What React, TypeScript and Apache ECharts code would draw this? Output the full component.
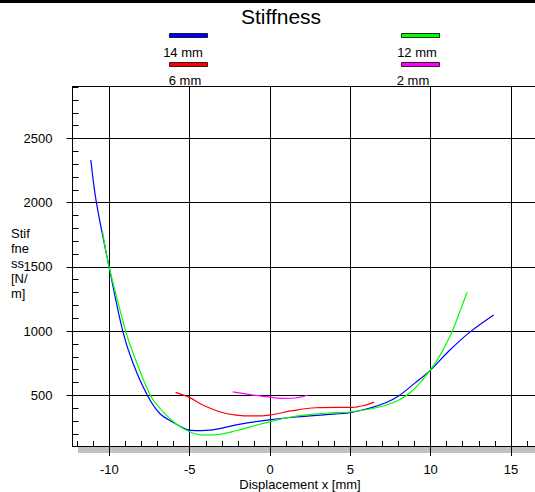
import React, { useEffect, useRef } from "react";
import * as echarts from "echarts";

const FONT = "'Liberation Sans', Arial, sans-serif";

const seriesNames = ["14 mm", "12 mm", "6 mm", "2 mm"];
const seriesColors = ["#0000ff", "#00ff00", "#ff0000", "#ff00ff"];

const x14 = [-11.16, -10.81, -10.02, -9.17, -8.53, -7.64, -6.88, -5.94, -5.22, -4.6, -3.57, -2.11, -0.3, 1.4, 3.48, 4.97, 6.17, 7.2, 8.03, 9.0, 9.96, 11.14, 12.48, 13.93];
const v14 = [2334, 2000, 1500, 1000, 749, 500, 360, 282, 235, 224, 230, 269, 305, 329, 349, 364, 399, 442, 497, 593, 692, 845, 996, 1126];

const x12 = [-10.43, -10.02, -8.99, -8.6, -7.45, -6.67, -5.84, -5.01, -4.19, -3.35, -2.11, -0.3, 1.4, 3.48, 4.97, 6.17, 7.2, 8.03, 8.8, 9.48, 10.2, 10.72, 11.34, 11.86, 12.27];
const v12 = [1775, 1500, 1000, 853, 500, 372, 276, 216, 190, 193, 224, 285, 333, 360, 370, 391, 422, 463, 527, 619, 735, 840, 996, 1165, 1303];

const x6 = [-5.88, -5.03, -4.19, -3.15, -2.11, -1.08, -0.04, 1.4, 2.86, 4.1, 5.13, 5.96, 6.48];
const v6 = [523, 484, 424, 372, 346, 339, 346, 380, 403, 406, 406, 424, 447];

const x2 = [-2.32, -1.08, -0.04, 0.7, 1.4, 2.34];
const v2 = [526, 502, 487, 476, 477, 500];

const xMajorTicks = [-10, -5, 0, 5, 10, 15];
const xMinorTicks = [-12, -11, -9, -8, -7, -6, -4, -3, -2, -1, 1, 2, 3, 4, 6, 7, 8, 9, 11, 12, 13, 14, 16];
const yMajorTicks = [500, 1000, 1500, 2000, 2500];
const yMinorTicks = [200, 300, 400, 600, 700, 800, 900, 1100, 1200, 1300, 1400, 1600, 1700, 1800, 1900, 2100, 2200, 2300, 2400, 2600, 2700, 2800, 2900];

const xs = [x14, x12, x6, x2];
const vs = [v14, v12, v6, v2];

export default function App() {
  const ref = useRef<HTMLDivElement>(null);
  useEffect(() => {
    if (!ref.current) return;
    const chart = echarts.init(ref.current, null, { renderer: "svg" });
    const grid = { left: 72.5, top: 86.5, right: -1.4, bottom: 46 };
    const yBase = { type: "value", min: 105, max: 2905, gridIndex: 0, position: "left" };
    const xBase = { type: "value", min: -12.3, max: 16.5, gridIndex: 0 };
    const series = seriesNames.map((name, i) => ({
      name,
      type: "line",
      xAxisIndex: 0,
      yAxisIndex: 0,
      data: xs[i].map((x, j) => [x, vs[i][j]]),
      smooth: 0.35,
      showSymbol: false,
      symbol: "none",
      z: 4,
      lineStyle: { color: seriesColors[i], width: 1.2 },
    }));
    const legendItems: any[] = [];
    const legendPos = [
      { rx: 169, ry: 33, tx: 183, ty: 52 },
      { rx: 401, ry: 33, tx: 417, ty: 52 },
      { rx: 169, ry: 62, tx: 185, ty: 80.5 },
      { rx: 401, ry: 62, tx: 413, ty: 80.5 },
    ];
    seriesNames.forEach((name, i) => {
      const p = legendPos[i];
      legendItems.push({
        type: "rect",
        shape: { x: p.rx + 0.5, y: p.ry + 0.5, width: 38, height: 4 },
        style: { fill: seriesColors[i], stroke: "#000", lineWidth: 0.8 },
        z: 10,
      });
      legendItems.push({
        type: "text",
        x: p.tx,
        y: p.ty,
        style: { text: name, font: `13px ${FONT}`, fill: "#000", align: "center", verticalAlign: "middle" },
        z: 10,
      });
    });
    const plain = (v: number) => String(v);
    chart.setOption({
      animation: false,
      backgroundColor: "#fff",
      grid,
      xAxis: [
        {
          ...xBase,
          position: "bottom",
          z: 3,
          axisLine: { show: true, onZero: false, lineStyle: { color: "#000", width: 1 } },
          axisTick: { show: true, inside: false, length: 10, customValues: xMajorTicks, lineStyle: { color: "#000" } },
          axisLabel: { show: true, customValues: xMajorTicks, formatter: plain, margin: 17, color: "#000", fontSize: 13, fontFamily: FONT },
          splitLine: { show: true, lineStyle: { color: "#000", width: 1 } },
        },
        {
          ...xBase,
          position: "bottom",
          z: 3,
          axisLine: { show: false, onZero: false },
          axisTick: { show: true, inside: true, length: 5, customValues: xMinorTicks, lineStyle: { color: "#000" } },
          axisLabel: { show: false },
          splitLine: { show: false },
        },
        {
          ...xBase,
          position: "top",
          z: 3,
          axisLine: { show: true, onZero: false, lineStyle: { color: "#000", width: 1 } },
          axisTick: { show: false },
          axisLabel: { show: false },
          splitLine: { show: false },
        },
      ],
      yAxis: [
        {
          ...yBase,
          z: 3,
          axisLine: { show: true, onZero: false, lineStyle: { color: "#000", width: 1 } },
          axisTick: { show: true, inside: false, length: 6, customValues: yMajorTicks, lineStyle: { color: "#000" } },
          axisLabel: { show: true, customValues: yMajorTicks, formatter: plain, margin: 20, color: "#000", fontSize: 13, fontFamily: FONT },
          splitLine: { show: true, lineStyle: { color: "#000", width: 1 } },
        },
        {
          ...yBase,
          z: 3,
          axisLine: { show: false, onZero: false },
          axisTick: { show: true, inside: true, length: 6, customValues: yMinorTicks, lineStyle: { color: "#000" } },
          axisLabel: { show: false },
          splitLine: { show: false },
        },
      ],
      series,
      graphic: [
        { type: "rect", shape: { x: 0, y: 0, width: 535, height: 3 }, style: { fill: "#000" }, z: 10 },
        { type: "rect", shape: { x: 78, y: 447, width: 470, height: 6 }, style: { fill: "#c0c0c0" }, z: 0, zlevel: 0 },
        {
          type: "text",
          x: 281,
          y: 16.5,
          style: { text: "Stiffness", font: `21px ${FONT}`, fill: "#000", align: "center", verticalAlign: "middle" },
          z: 10,
        },
        {
          type: "text",
          x: 11,
          y: 226,
          style: { text: "Stif\nfne\nss\n[N/\nm]", font: `13px ${FONT}`, lineHeight: 15, fill: "#000", align: "left", verticalAlign: "top" },
          z: 10,
        },
        {
          type: "text",
          x: 300,
          y: 484,
          style: { text: "Displacement x [mm]", font: `13px ${FONT}`, fill: "#000", align: "center", verticalAlign: "middle" },
          z: 10,
        },
        ...legendItems,
      ],
    } as any);
    return () => chart.dispose();
  }, []);
  return (
    <div
      ref={ref}
      style={{ position: "absolute", left: 0, top: 0, width: 535, height: 492 }}
    />
  );
}
